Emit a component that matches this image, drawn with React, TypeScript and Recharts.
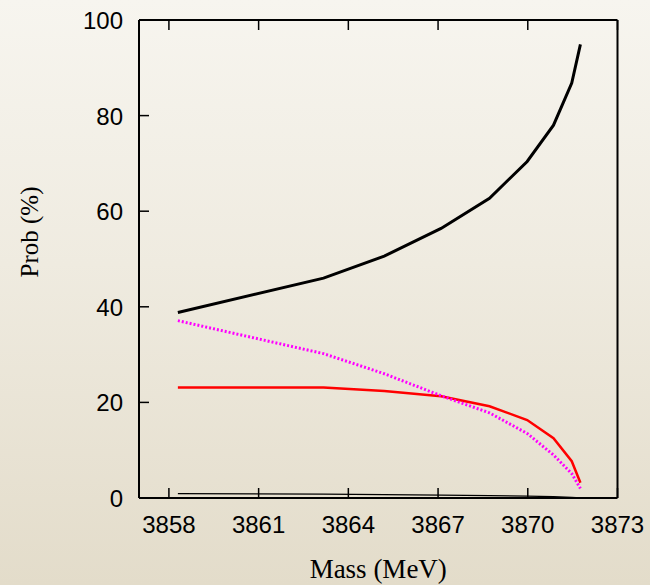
import { LineChart, Line, XAxis, YAxis } from 'recharts';

// mass points (MeV)
const masses = [3858.3, 3863.17, 3865.2, 3867.1, 3868.72, 3869.98, 3870.86, 3871.47, 3871.76];
// thick black curve
const probTotal = [38.8, 46.0, 50.6, 56.4, 62.7, 70.4, 78.0, 86.8, 94.9];
// magenta dotted curve
const probDotted = [37.1, 30.2, 26.0, 21.4, 17.8, 13.5, 9.0, 5.1, 2.0];
// red curve
const probRed = [23.1, 23.1, 22.4, 21.3, 19.2, 16.3, 12.5, 7.7, 3.2];
// thin black curve
const probThin = [0.9, 0.8, 0.7, 0.6, 0.5, 0.4, 0.3, 0.15, 0.05];

const massTicks = [3858, 3861, 3864, 3867, 3870, 3873];
const probTicks = [0, 20, 40, 60, 80, 100];

const chartData = masses.map((m, i) => ({
  mass: m,
  total: probTotal[i],
  dotted: probDotted[i],
  red: probRed[i],
  thin: probThin[i],
}));

const tickFont = { fontFamily: '"Liberation Sans", Arial, sans-serif', fontSize: 24, fill: '#000' };
const titleFont = { fontFamily: '"Liberation Serif", "Times New Roman", serif', fill: '#000' };
const TICK_LEN = 10;

const BottomTick = ({ x, y, payload }: any) => (
  <g>
    <line x1={x} y1={y} x2={x} y2={y - TICK_LEN} stroke="#000" strokeWidth={1.5} />
    <text x={x} y={y + 35} textAnchor="middle" {...tickFont}>{payload.value}</text>
  </g>
);

const TopTick = ({ x, y }: any) => (
  <line x1={x} y1={y} x2={x} y2={y + TICK_LEN} stroke="#000" strokeWidth={1.5} />
);

const LeftTick = ({ x, y, payload }: any) => (
  <g>
    <line x1={x} y1={y} x2={x + TICK_LEN} y2={y} stroke="#000" strokeWidth={1.5} />
    <text x={x - 16} y={y + 9} textAnchor="end" {...tickFont}>{payload.value}</text>
  </g>
);

const RightTick = ({ x, y }: any) => (
  <line x1={x} y1={y} x2={x - TICK_LEN} y2={y} stroke="#000" strokeWidth={1.5} />
);

const MassTitle = ({ viewBox }: any) => (
  <text x={viewBox.x + viewBox.width / 2} y={viewBox.y + 80} textAnchor="middle" fontSize={27} {...titleFont}>
    Mass (MeV)
  </text>
);

const ProbTitle = ({ viewBox }: any) => {
  const cx = viewBox.x + 38;
  const cy = viewBox.y + 212;
  return (
    <text x={cx} y={cy} textAnchor="middle" fontSize={25} transform={`rotate(-90 ${cx} ${cy})`} {...titleFont}>
      Prob (%)
    </text>
  );
};

const App = () => (
  <div
    style={{
      position: 'absolute',
      left: 0,
      top: 0,
      width: 650,
      height: 585,
      background: 'linear-gradient(to bottom, #f7f5ef 0%, #efebe0 45%, #e3dcca 100%)',
    }}
  >
    <LineChart width={650} height={585} data={chartData} margin={{ top: 0, right: 0, bottom: 0, left: 0 }}>
      <XAxis
        dataKey="mass"
        type="number"
        domain={[3857, 3873]}
        ticks={massTicks}
        interval={0}
        allowDataOverflow
        height={87}
        tickSize={0}
        tickMargin={0}
        tickLine={false}
        tick={<BottomTick />}
        axisLine={{ stroke: '#000', strokeWidth: 2 }}
        label={<MassTitle />}
      />
      <XAxis
        xAxisId="top"
        dataKey="mass"
        type="number"
        orientation="top"
        domain={[3857, 3873]}
        ticks={massTicks}
        interval={0}
        allowDataOverflow
        height={20}
        tickSize={0}
        tickMargin={0}
        tickLine={false}
        tick={<TopTick />}
        axisLine={{ stroke: '#000', strokeWidth: 2 }}
      />
      <YAxis
        type="number"
        domain={[0, 100]}
        ticks={probTicks}
        interval={0}
        width={139}
        tickSize={0}
        tickMargin={0}
        tickLine={false}
        tick={<LeftTick />}
        axisLine={{ stroke: '#000', strokeWidth: 2 }}
        label={<ProbTitle />}
      />
      <YAxis
        yAxisId="right"
        orientation="right"
        type="number"
        domain={[0, 100]}
        ticks={probTicks}
        interval={0}
        width={32.5}
        tickSize={0}
        tickMargin={0}
        tickLine={false}
        tick={<RightTick />}
        axisLine={{ stroke: '#000', strokeWidth: 2 }}
      />
      <Line type="linear" dataKey="thin" stroke="#000" strokeWidth={1.2} dot={false} isAnimationActive={false} />
      <Line type="linear" dataKey="red" stroke="#ff0000" strokeWidth={2.5} dot={false} isAnimationActive={false} />
      <Line
        type="linear"
        dataKey="dotted"
        stroke="#ff00ff"
        strokeWidth={3}
        strokeDasharray="2 2"
        dot={false}
        isAnimationActive={false}
      />
      <Line type="linear" dataKey="total" stroke="#000" strokeWidth={3} dot={false} isAnimationActive={false} />
    </LineChart>
  </div>
);

export default App;
